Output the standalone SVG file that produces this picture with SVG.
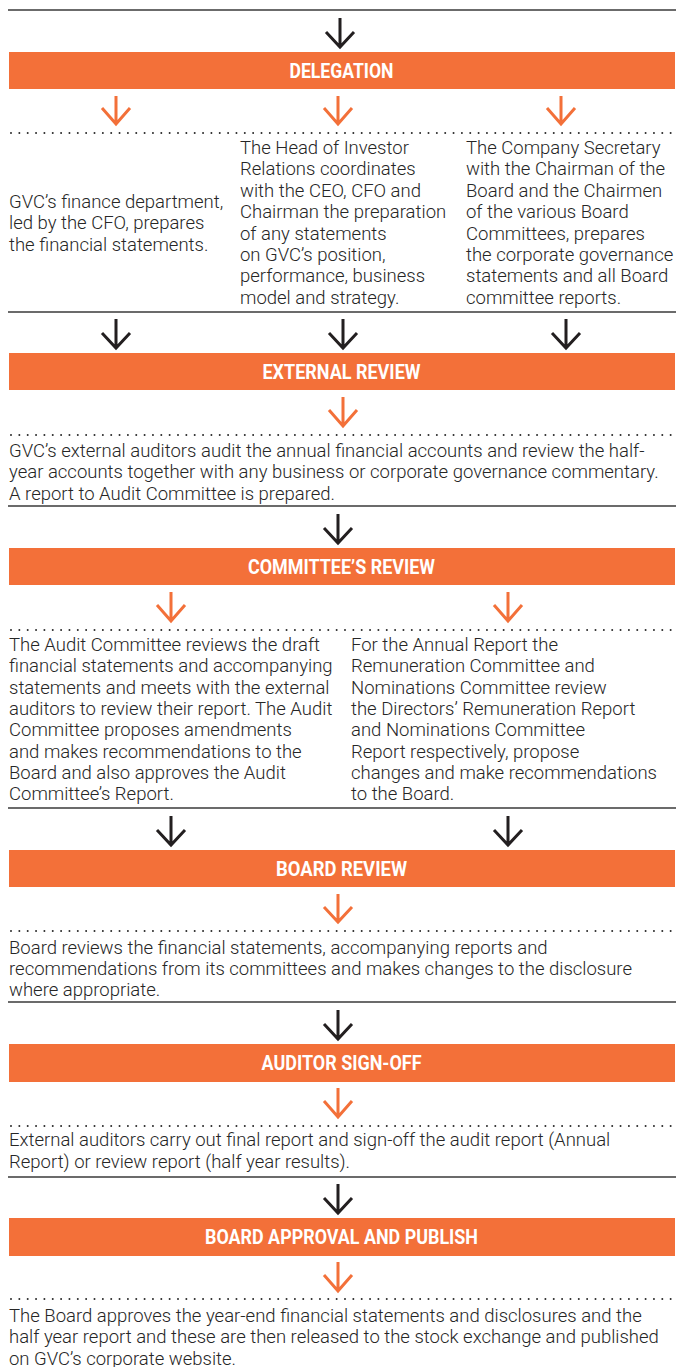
<svg xmlns="http://www.w3.org/2000/svg" width="676" height="1367" viewBox="0 0 676 1367">
<defs>
<style>
.bg{fill:#ffffff}
.bar{fill:#F37039}
.title{font-family:Roboto,"Liberation Sans",sans-serif;font-weight:700;font-size:20px;fill:#ffffff;text-anchor:middle}
.txt{font-family:Roboto,"Liberation Sans",sans-serif;font-weight:300;font-size:18.5px;fill:#262626}
.solid{stroke:#3a3a3a;stroke-width:1.5;fill:none}
.dots{stroke:#2b2b2b;stroke-width:2;stroke-linecap:round;stroke-dasharray:0 8.35;fill:none}
.ab{stroke:#231F20;stroke-width:3;fill:none;stroke-linejoin:miter}
.ao{stroke:#F37039;stroke-width:3;fill:none;stroke-linejoin:miter}
</style>
</defs>
<rect class="bg" x="0" y="0" width="676" height="1367"/>

<g id="connectors">
<line class="solid" x1="8" y1="10" x2="676" y2="10"/>
<path class="ab" d="M340 18V47M326 32L340 47L354 32"/>
<path class="ao" d="M116 96V124M102 108L116 124L130 108"/>
<path class="ao" d="M338 96V124M324 108L338 124L352 108"/>
<path class="ao" d="M561 96V124M547 108L561 124L575 108"/>
<line class="dots" x1="11" y1="133" x2="676" y2="133"/>

<line class="solid" x1="8" y1="312" x2="676" y2="312"/>
<path class="ab" d="M116 319V348M102 333L116 348L130 333"/>
<path class="ab" d="M343 319V348M329 333L343 348L357 333"/>
<path class="ab" d="M566 319V348M552 333L566 348L580 333"/>
<path class="ao" d="M343 397V426M329 410L343 426L357 410"/>
<line class="dots" x1="11" y1="435" x2="676" y2="435"/>

<line class="solid" x1="8" y1="506" x2="676" y2="506"/>
<path class="ab" d="M338 514V543M324 528L338 543L352 528"/>
<path class="ao" d="M171 592V621M157 605L171 621L185 605"/>
<path class="ao" d="M508 592V621M494 605L508 621L522 605"/>
<line class="dots" x1="11" y1="630" x2="676" y2="630"/>

<line class="solid" x1="8" y1="808" x2="676" y2="808"/>
<path class="ab" d="M171 816V845M157 830L171 845L185 830"/>
<path class="ab" d="M508 816V845M494 830L508 845L522 830"/>
<path class="ao" d="M338 894V922M324 907L338 922L352 907"/>
<line class="dots" x1="11" y1="931" x2="676" y2="931"/>

<line class="solid" x1="8" y1="1002" x2="676" y2="1002"/>
<path class="ab" d="M338 1010V1039M324 1024L338 1039L352 1024"/>
<path class="ao" d="M338 1088V1117M324 1101L338 1117L352 1101"/>
<line class="dots" x1="11" y1="1126" x2="676" y2="1126"/>

<line class="solid" x1="8" y1="1177" x2="676" y2="1177"/>
<path class="ab" d="M338 1184V1213M324 1198L338 1213L352 1198"/>
<path class="ao" d="M338 1262V1291M324 1275L338 1291L352 1275"/>
<line class="dots" x1="11" y1="1299" x2="676" y2="1299"/>
</g>

<g id="delegation">
<rect class="bar" x="9" y="52" width="666" height="37"/>
<text class="title" x="341.5" y="78" textLength="104" lengthAdjust="spacingAndGlyphs">DELEGATION</text>
</g>

<g id="finance">
<text class="txt" x="9" y="208">GVC’s finance department,</text>
<text class="txt" x="9" y="229.4">led by the CFO, prepares</text>
<text class="txt" x="9" y="250.8">the financial statements.</text>
</g>

<g id="investor-relations">
<text class="txt" x="240" y="154">The Head of Investor</text>
<text class="txt" x="240" y="175.4">Relations coordinates</text>
<text class="txt" x="240" y="196.8">with the CEO, CFO and</text>
<text class="txt" x="240" y="218.2">Chairman the preparation</text>
<text class="txt" x="240" y="239.6">of any statements</text>
<text class="txt" x="240" y="261">on GVC’s position,</text>
<text class="txt" x="240" y="282.4">performance, business</text>
<text class="txt" x="240" y="303.8">model and strategy.</text>
</g>

<g id="company-secretary">
<text class="txt" x="466" y="154">The Company Secretary</text>
<text class="txt" x="466" y="175.4">with the Chairman of the</text>
<text class="txt" x="466" y="196.8">Board and the Chairmen</text>
<text class="txt" x="466" y="218.2">of the various Board</text>
<text class="txt" x="466" y="239.6">Committees, prepares</text>
<text class="txt" x="466" y="261">the corporate governance</text>
<text class="txt" x="466" y="282.4">statements and all Board</text>
<text class="txt" x="466" y="303.8">committee reports.</text>
</g>

<g id="external-review">
<rect class="bar" x="9" y="353" width="666" height="37"/>
<text class="title" x="341.5" y="379" textLength="158" lengthAdjust="spacingAndGlyphs">EXTERNAL REVIEW</text>
</g>

<g id="external-auditors">
<text class="txt" x="9" y="457">GVC’s external auditors audit the annual financial accounts and review the half-</text>
<text class="txt" x="9" y="478.4">year accounts together with any business or corporate governance commentary.</text>
<text class="txt" x="9" y="499.8">A report to Audit Committee is prepared.</text>
</g>

<g id="committees-review">
<rect class="bar" x="9" y="548" width="666" height="37"/>
<text class="title" x="341.5" y="574" textLength="187" lengthAdjust="spacingAndGlyphs">COMMITTEE’S REVIEW</text>
</g>

<g id="audit-committee">
<text class="txt" x="9" y="651">The Audit Committee reviews the draft</text>
<text class="txt" x="9" y="672.3">financial statements and accompanying</text>
<text class="txt" x="9" y="693.6">statements and meets with the external</text>
<text class="txt" x="9" y="715">auditors to review their report. The Audit</text>
<text class="txt" x="9" y="736.3">Committee proposes amendments</text>
<text class="txt" x="9" y="757.6">and makes recommendations to the</text>
<text class="txt" x="9" y="779">Board and also approves the Audit</text>
<text class="txt" x="9" y="800.3">Committee’s Report.</text>
</g>

<g id="remuneration-nominations">
<text class="txt" x="351" y="651">For the Annual Report the</text>
<text class="txt" x="351" y="672.3">Remuneration Committee and</text>
<text class="txt" x="351" y="693.6">Nominations Committee review</text>
<text class="txt" x="351" y="715">the Directors’ Remuneration Report</text>
<text class="txt" x="351" y="736.3">and Nominations Committee</text>
<text class="txt" x="351" y="757.6">Report respectively, propose</text>
<text class="txt" x="351" y="779">changes and make recommendations</text>
<text class="txt" x="351" y="800.3">to the Board.</text>
</g>

<g id="board-review">
<rect class="bar" x="9" y="850" width="666" height="37"/>
<text class="title" x="341.5" y="876" textLength="131" lengthAdjust="spacingAndGlyphs">BOARD REVIEW</text>
</g>

<g id="board-reviews-text">
<text class="txt" x="9" y="953.5">Board reviews the financial statements, accompanying reports and</text>
<text class="txt" x="9" y="974.8">recommendations from its committees and makes changes to the disclosure</text>
<text class="txt" x="9" y="996">where appropriate.</text>
</g>

<g id="auditor-sign-off">
<rect class="bar" x="9" y="1044" width="666" height="38"/>
<text class="title" x="341.5" y="1070" textLength="160" lengthAdjust="spacingAndGlyphs">AUDITOR SIGN-OFF</text>
</g>

<g id="sign-off-text">
<text class="txt" x="9" y="1146">External auditors carry out final report and sign-off the audit report (Annual</text>
<text class="txt" x="9" y="1167.5">Report) or review report (half year results).</text>
</g>

<g id="board-approval">
<rect class="bar" x="9" y="1218" width="666" height="38"/>
<text class="title" x="341.5" y="1244" textLength="273" lengthAdjust="spacingAndGlyphs">BOARD APPROVAL AND PUBLISH</text>
</g>

<g id="publish-text">
<text class="txt" x="9" y="1322">The Board approves the year-end financial statements and disclosures and the</text>
<text class="txt" x="9" y="1343.3">half year report and these are then released to the stock exchange and published</text>
<text class="txt" x="9" y="1364.5">on GVC’s corporate website.</text>
</g>
</svg>
